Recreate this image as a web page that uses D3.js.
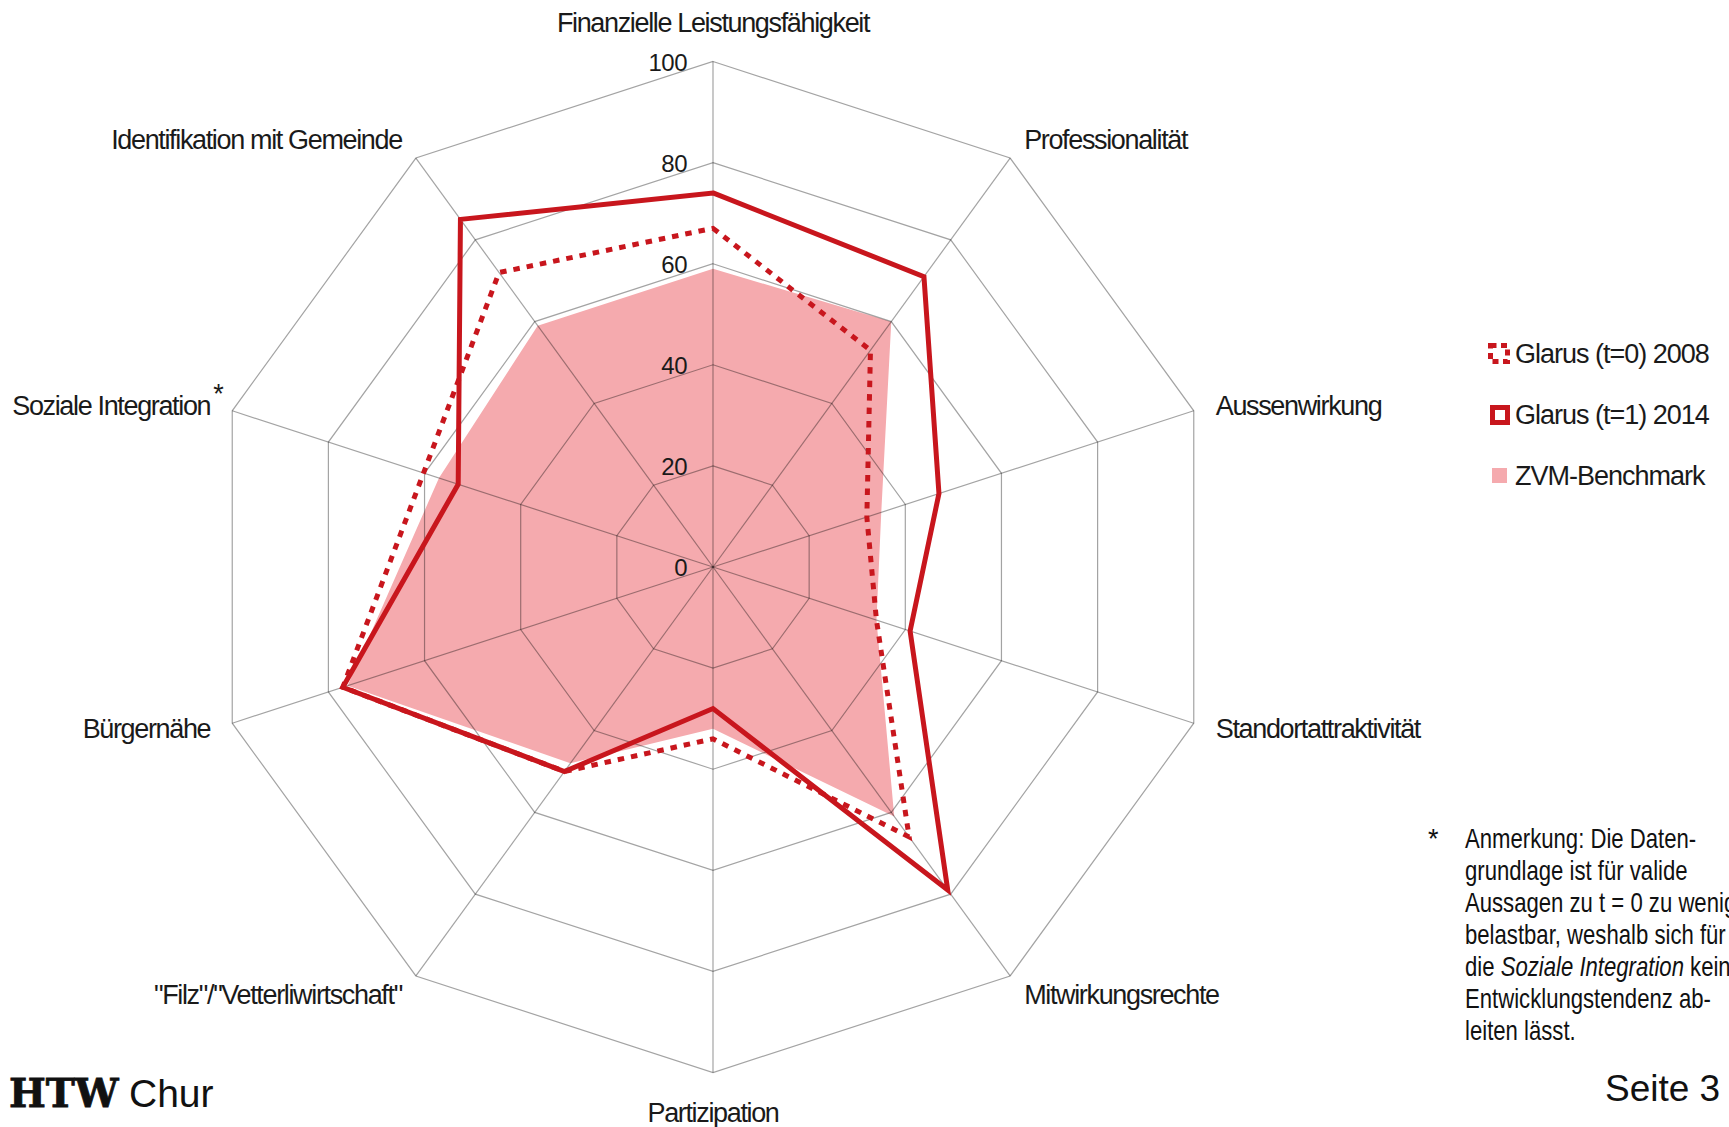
<!DOCTYPE html>
<html lang="de">
<head>
<meta charset="UTF-8">
<title>Glarus Radar</title>
<script src="https://cdn.jsdelivr.net/npm/d3@7"></script>
<style>
  * { margin: 0; padding: 0; }
  body { background: #fff; width: 1729px; height: 1127px; overflow: hidden; }
  svg { display: block; font-family: "Liberation Sans", Arial, sans-serif; }
  .axis-label { font-size: 27px; letter-spacing: -1.35px; fill: #1a1a1a; }
  .legend-label { font-size: 27px; letter-spacing: -1px; fill: #1a1a1a; }
  .tick-label { font-size: 24px; letter-spacing: -0.5px; fill: #1a1a1a; }
  .note { font-size: 27px; fill: #111; }
</style>
</head>
<body>
<svg id="chart" width="1729" height="1127"></svg>
<script>
// categories clockwise from the top
var categories = [
  "Finanzielle Leistungsfähigkeit",
  "Professionalität",
  "Aussenwirkung",
  "Standortattraktivität",
  "Mitwirkungsrechte",
  "Partizipation",
  "\"Filz\"/\"Vetterliwirtschaft\"",
  "Bürgernähe",
  "Soziale Integration",
  "Identifikation mit Gemeinde"
];
var glarus2008 = [67, 53, 32, 34, 66, 34, 50, 77, null, 72]; // no value for Soziale Integration
var glarus2014 = [74, 71, 47, 41, 79, 28, 50, 77, 53, 85];
var benchmark = [59, 60, 35, 34, 61, 32, 48, 76, 57, 59];
var ticks = [0, 20, 40, 60, 80, 100];
var seriesNames = ["Glarus (t=0) 2008", "Glarus (t=1) 2014", "ZVM-Benchmark"];
var noteLines = [
  ["Anmerkung: Die Daten-"],
  ["grundlage ist für valide"],
  ["Aussagen zu t = 0 zu wenig"],
  ["belastbar, weshalb sich für"],
  ["die ", "Soziale Integration", " keine"],
  ["Entwicklungstendenz ab-"],
  ["leiten lässt."]
];

var red = "#c8161d";
var pink = "#f5aaae";
var cx = 713, cy = 567, R = 505.5;

var svg = d3.select("#chart");
var g = svg.append("g").attr("transform", "translate(" + cx + "," + cy + ")");

var r = d3.scaleLinear().domain([0, 100]).range([0, R]);
var angle = d3.scaleLinear().domain([0, categories.length]).range([0, 2 * Math.PI]);

function pts(values) {
  return values.map(function(v, i) { return { i: i, v: v }; })
    .filter(function(d) { return d.v !== null; });
}

var radial = d3.lineRadial()
  .angle(function(d) { return angle(d.i); })
  .radius(function(d) { return r(d.v); })
  .curve(d3.curveLinearClosed);

// benchmark area
g.append("path")
  .datum(pts(benchmark))
  .attr("d", radial)
  .attr("fill", pink);

// grid rings
g.selectAll(".ring")
  .data(ticks.slice(1))
  .enter().append("path")
  .attr("class", "ring")
  .attr("d", function(t) { return radial(categories.map(function(c, i) { return { i: i, v: t }; })); })
  .attr("fill", "none")
  .attr("stroke", "#000")
  .attr("stroke-opacity", 0.36)
  .attr("stroke-width", 1.2);

// spokes
g.selectAll(".spoke")
  .data(categories)
  .enter().append("line")
  .attr("class", "spoke")
  .attr("x1", 0).attr("y1", 0)
  .attr("x2", function(c, i) { return r(100) * Math.sin(angle(i)); })
  .attr("y2", function(c, i) { return -r(100) * Math.cos(angle(i)); })
  .attr("stroke", "#000")
  .attr("stroke-opacity", 0.36)
  .attr("stroke-width", 1.2);

// tick labels
g.selectAll(".tick-label")
  .data(ticks)
  .enter().append("text")
  .attr("class", "tick-label")
  .attr("x", -26)
  .attr("y", function(t) { return -r(t) + 9; })
  .attr("text-anchor", "end")
  .text(function(t) { return t; });

// series lines: 2014 solid, 2008 dotted on top
g.append("path")
  .datum(pts(glarus2014))
  .attr("d", radial)
  .attr("fill", "none")
  .attr("stroke", red)
  .attr("stroke-width", 5)
  .attr("stroke-linejoin", "miter");

g.append("path")
  .datum(pts(glarus2008))
  .attr("d", radial)
  .attr("fill", "none")
  .attr("stroke", red)
  .attr("stroke-width", 5)
  .attr("stroke-dasharray", "6.5 7");

// category labels
g.selectAll(".axis-label")
  .data(categories)
  .enter().append("text")
  .attr("class", "axis-label")
  .each(function(c, i) {
    var a = angle(i), s = Math.sin(a), co = Math.cos(a);
    var px = r(100) * s, py = -r(100) * co;
    var side = Math.abs(s) < 0.01 ? 0 : (s > 0 ? 1 : -1);
    var dx = side * (Math.abs(co) > 0.5 ? 14 : 22);
    var mid = Math.abs(co) > 0.9 ? 39.5 : (Math.abs(co) > 0.5 ? 18.5 : 5.5);
    var y = py - (co > 0 ? mid : -mid) + 9.5;
    d3.select(this)
      .attr("x", px + dx)
      .attr("y", y)
      .attr("text-anchor", side === 0 ? "middle" : (side > 0 ? "start" : "end"))
      .text(c);
    if (c === "Soziale Integration") {
      g.append("text").attr("class", "axis-label")
        .attr("x", px + dx + 3).attr("y", y - 12)
        .text("*");
    }
  });

// legend
var lg = svg.append("g").attr("transform", "translate(1488,0)");
lg.append("rect").attr("x", 2.5).attr("y", 345.5).attr("width", 17).attr("height", 16)
  .attr("fill", "none").attr("stroke", red).attr("stroke-width", 5).attr("stroke-dasharray", "6 4.5");
lg.append("rect").attr("x", 4.5).attr("y", 407.5).attr("width", 15).attr("height", 15)
  .attr("fill", "none").attr("stroke", red).attr("stroke-width", 5);
lg.append("rect").attr("x", 4).attr("y", 468).attr("width", 15).attr("height", 15)
  .attr("fill", pink);
lg.selectAll(".legend-label")
  .data(seriesNames)
  .enter().append("text")
  .attr("class", "legend-label")
  .attr("x", 27)
  .attr("y", function(d, i) { return 363 + i * 61; })
  .text(function(d) { return d; });

// footnote (narrow type, cut at the right edge as in the slide)
svg.append("text").attr("class", "note").attr("x", 1428).attr("y", 848).text("*");
var note = svg.append("g").attr("transform", "translate(1465,848) scale(0.82,1)");
note.selectAll("text")
  .data(noteLines)
  .enter().append("text")
  .attr("class", "note")
  .attr("x", 0)
  .attr("y", function(d, i) { return i * 32; })
  .each(function(parts) {
    var t = d3.select(this);
    parts.forEach(function(p, k) {
      t.append("tspan").attr("font-style", k === 1 ? "italic" : null).text(p);
    });
  });

// footer
svg.append("text").attr("x", 9).attr("y", 1107)
  .attr("font-family", "DejaVu Serif, serif").attr("font-weight", "bold")
  .attr("font-size", 39).attr("fill", "#111")
  .attr("stroke", "#111").attr("stroke-width", 0.8)
  .text("HTW");
svg.append("text").attr("x", 129).attr("y", 1107)
  .attr("font-family", "Liberation Sans, sans-serif")
  .attr("font-size", 39).attr("fill", "#111").text("Chur");
svg.append("text").attr("x", 1605).attr("y", 1101)
  .attr("font-size", 37).attr("fill", "#111").text("Seite 3");
</script>
</body>
</html>
